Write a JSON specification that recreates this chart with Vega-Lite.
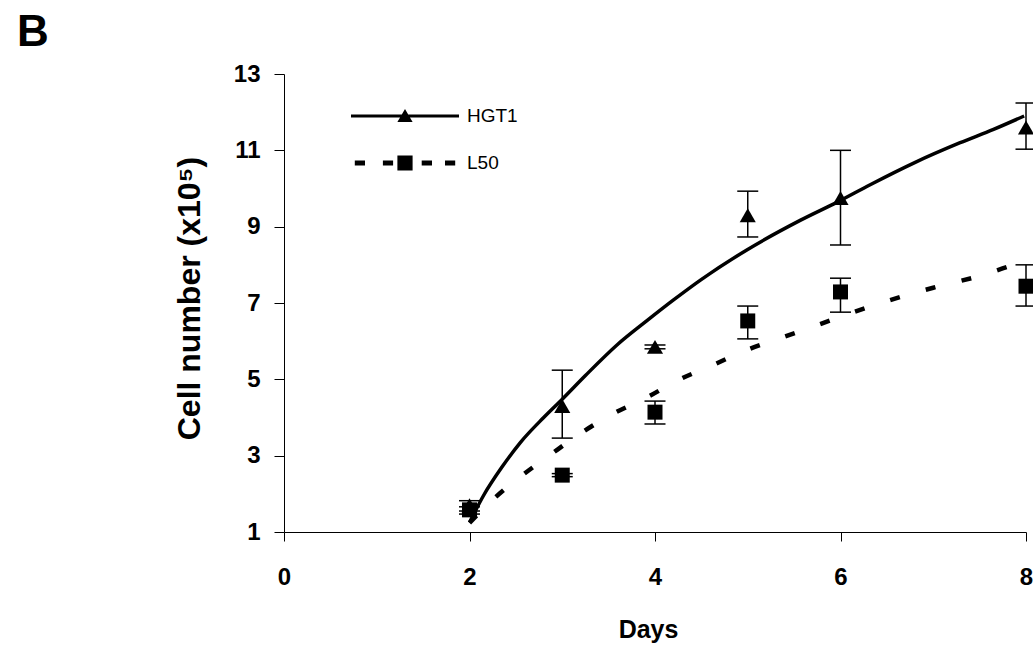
{
  "$schema": "https://vega.github.io/schema/vega-lite/v6.json",
  "width": 742,
  "height": 458,
  "autosize": "none",
  "padding": {"left": 284, "top": 74, "right": 7, "bottom": 119},
  "background": "white",
  "config": {"view": {"stroke": null}, "font": "Liberation Sans"},
  "title": {"text": "B", "anchor": "start", "frame": "group", "fontSize": 44, "fontWeight": "bold", "font": "Liberation Sans", "color": "black", "dx": -267, "dy": 43, "baseline": "alphabetic", "offset": 15},
  "datasets": {
    "points": [
      {"day": 2, "series": "HGT1", "value": 1.7, "low": 1.55, "high": 1.82},
      {"day": 3, "series": "HGT1", "value": 4.3, "low": 3.46, "high": 5.24},
      {"day": 4, "series": "HGT1", "value": 5.85, "low": 5.8, "high": 5.9},
      {"day": 5, "series": "HGT1", "value": 9.3, "low": 8.73, "high": 9.93},
      {"day": 6, "series": "HGT1", "value": 9.75, "low": 8.52, "high": 11.0},
      {"day": 8, "series": "HGT1", "value": 11.6, "low": 11.03, "high": 12.24},
      {"day": 2, "series": "L50", "value": 1.58, "low": 1.47, "high": 1.66},
      {"day": 3, "series": "L50", "value": 2.49, "low": 2.45, "high": 2.53},
      {"day": 4, "series": "L50", "value": 4.14, "low": 3.83, "high": 4.43},
      {"day": 5, "series": "L50", "value": 6.53, "low": 6.06, "high": 6.92},
      {"day": 6, "series": "L50", "value": 7.29, "low": 6.76, "high": 7.65},
      {"day": 8, "series": "L50", "value": 7.44, "low": 6.92, "high": 8.0}
    ],
    "trend": [
      {"day": 2.0, "series": "HGT1", "value": 1.25},
      {"day": 2.15, "series": "HGT1", "value": 1.95},
      {"day": 2.35, "series": "HGT1", "value": 2.7},
      {"day": 2.55, "series": "HGT1", "value": 3.35},
      {"day": 2.8, "series": "HGT1", "value": 4.0},
      {"day": 3.0, "series": "HGT1", "value": 4.48},
      {"day": 3.25, "series": "HGT1", "value": 5.1},
      {"day": 3.59, "series": "HGT1", "value": 5.9},
      {"day": 3.92, "series": "HGT1", "value": 6.55},
      {"day": 4.2, "series": "HGT1", "value": 7.08},
      {"day": 4.49, "series": "HGT1", "value": 7.6},
      {"day": 4.99, "series": "HGT1", "value": 8.39},
      {"day": 5.57, "series": "HGT1", "value": 9.17},
      {"day": 5.97, "series": "HGT1", "value": 9.65},
      {"day": 6.32, "series": "HGT1", "value": 10.1},
      {"day": 6.8, "series": "HGT1", "value": 10.68},
      {"day": 7.29, "series": "HGT1", "value": 11.2},
      {"day": 7.65, "series": "HGT1", "value": 11.55},
      {"day": 7.98, "series": "HGT1", "value": 11.9},
      {"day": 2.0, "series": "L50", "value": 1.24},
      {"day": 2.27, "series": "L50", "value": 1.89},
      {"day": 2.57, "series": "L50", "value": 2.49},
      {"day": 2.87, "series": "L50", "value": 3.02},
      {"day": 3.2, "series": "L50", "value": 3.59},
      {"day": 3.55, "series": "L50", "value": 4.1},
      {"day": 3.93, "series": "L50", "value": 4.55},
      {"day": 4.25, "series": "L50", "value": 4.98},
      {"day": 4.63, "series": "L50", "value": 5.38},
      {"day": 4.99, "series": "L50", "value": 5.77},
      {"day": 5.35, "series": "L50", "value": 6.08},
      {"day": 5.73, "series": "L50", "value": 6.4},
      {"day": 6.08, "series": "L50", "value": 6.71},
      {"day": 6.5, "series": "L50", "value": 7.05},
      {"day": 7.0, "series": "L50", "value": 7.4},
      {"day": 7.53, "series": "L50", "value": 7.73},
      {"day": 7.86, "series": "L50", "value": 7.99},
      {"day": 8.0, "series": "L50", "value": 8.08}
    ]
  },
  "encoding": {
    "x": {
      "field": "day", "type": "quantitative",
      "scale": {"domain": [0, 8], "nice": false, "zero": false},
      "axis": {"values": [0, 2, 4, 6, 8], "title": "Days", "grid": false, "domainColor": "black", "tickColor": "black", "tickSize": 9, "labelFontSize": 24, "labelFontWeight": "bold", "labelColor": "black", "labelBaseline": "alphabetic", "labelPadding": 43, "labelFlush": false, "labelFont": "Liberation Sans", "titleFont": "Liberation Sans", "titleFontSize": 25, "titleFontWeight": "bold", "titleColor": "black", "titleX": 364, "titleY": 105, "titleBaseline": "alphabetic", "titleAlign": "center"}
    }
  },
  "layer": [
    {
      "data": {"name": "trend"},
      "transform": [{"filter": "datum.series == 'HGT1'"}],
      "mark": {"type": "line", "color": "black", "strokeWidth": 3.5, "interpolate": "monotone"},
      "encoding": {
        "y": {
          "field": "value", "type": "quantitative",
          "scale": {"domain": [1, 13], "nice": false, "zero": false},
          "axis": {"values": [1, 3, 5, 7, 9, 11, 13], "title": "Cell number (x10⁵)", "grid": false, "domainColor": "black", "tickColor": "black", "tickSize": 10, "labelFontSize": 24, "labelFontWeight": "bold", "labelColor": "black", "labelPadding": 14, "labelFont": "Liberation Sans", "titleFont": "Liberation Sans", "titleFontSize": 32, "titleFontWeight": "bold", "titleColor": "black", "titleX": -85, "titleY": 224, "titleBaseline": "alphabetic", "titleAngle": -90, "titleAlign": "center"}
        }
      }
    },
    {
      "data": {"name": "trend"},
      "transform": [{"filter": "datum.series == 'L50'"}],
      "mark": {"type": "line", "color": "black", "strokeWidth": 4.5, "strokeDash": [10, 27], "strokeCap": "butt", "interpolate": "monotone"},
      "encoding": {"y": {"field": "value", "type": "quantitative"}}
    },
    {
      "data": {"name": "points"},
      "mark": {"type": "rule", "color": "black", "strokeWidth": 1.5},
      "encoding": {"y": {"field": "low", "type": "quantitative"}, "y2": {"field": "high"}}
    },
    {
      "data": {"name": "points"},
      "mark": {"type": "tick", "orient": "horizontal", "color": "black", "size": 21, "thickness": 1.5, "opacity": 1},
      "encoding": {"y": {"field": "low", "type": "quantitative"}}
    },
    {
      "data": {"name": "points"},
      "mark": {"type": "tick", "orient": "horizontal", "color": "black", "size": 21, "thickness": 1.5, "opacity": 1},
      "encoding": {"y": {"field": "high", "type": "quantitative"}}
    },
    {
      "data": {"name": "points"},
      "transform": [{"filter": "datum.series == 'HGT1'"}],
      "mark": {"type": "point", "shape": "triangle-up", "filled": true, "color": "black", "size": 260, "opacity": 1},
      "encoding": {"y": {"field": "value", "type": "quantitative"}}
    },
    {
      "data": {"name": "points"},
      "transform": [{"filter": "datum.series == 'L50'"}],
      "mark": {"type": "point", "shape": "square", "filled": true, "color": "black", "size": 225, "opacity": 1},
      "encoding": {"y": {"field": "value", "type": "quantitative"}}
    },
    {
      "data": {"name": "points"},
      "transform": [{"filter": "false"}],
      "mark": {"type": "point", "filled": true, "color": "black", "size": 400, "opacity": 1},
      "encoding": {
        "y": {"field": "value", "type": "quantitative"},
        "shape": {
          "field": "series", "type": "nominal",
          "scale": {"domain": ["HGT1", "L50"], "range": ["M-5.4,-0.15L5.4,-0.15L5.4,0.15L-5.4,0.15ZM0,-0.7L0.76,0.6L-0.76,0.6Z", "M-5.02,-0.25L-4.0,-0.25L-4.0,0.25L-5.02,0.25ZM-2.21,-0.25L-1.19,-0.25L-1.19,0.25L-2.21,0.25ZM1.67,-0.25L2.7,-0.25L2.7,0.25L1.67,0.25ZM4.0,-0.25L5.02,-0.25L5.02,0.25L4.0,0.25ZM-0.76,-0.76L0.76,-0.76L0.76,0.76L-0.76,0.76Z"]},
          "legend": {"title": null, "orient": "none", "legendX": 67, "legendY": 32, "padding": 0, "rowPadding": 27, "labelFont": "Liberation Sans", "labelFontSize": 19, "labelColor": "black", "labelOffset": 52, "symbolOffset": 44, "symbolSize": 400, "symbolStrokeWidth": 0, "symbolFillColor": "black", "symbolOpacity": 1}
        }
      }
    }
  ]
}
